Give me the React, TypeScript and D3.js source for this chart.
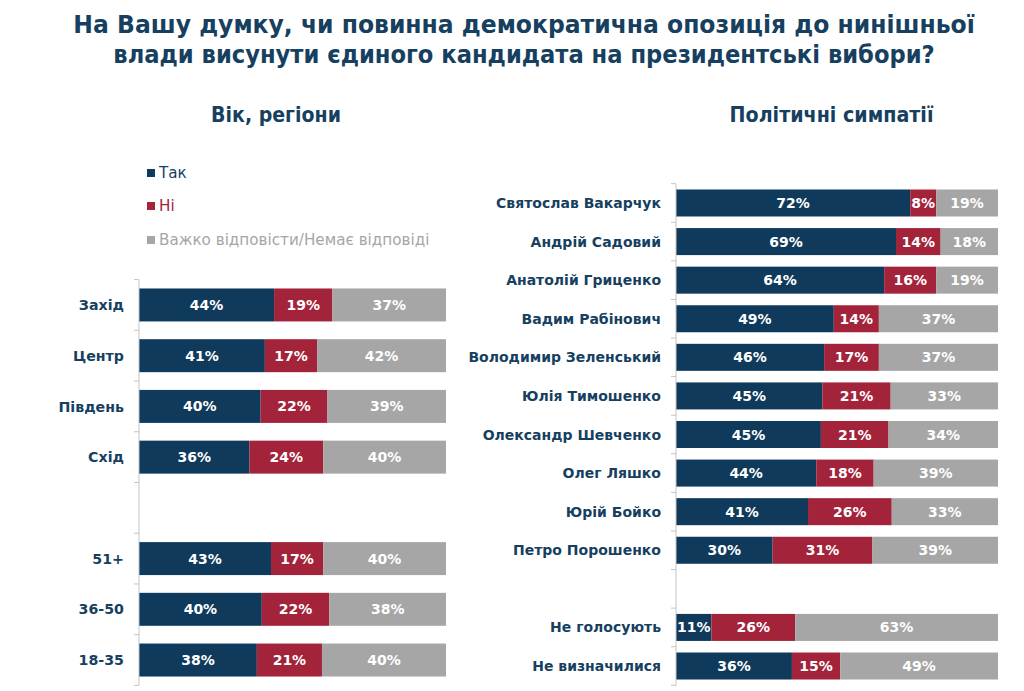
import React, { useLayoutEffect, useRef, useState } from "react";
import * as d3 from "d3";

const seriesKeys = ["yes", "no", "dk"];
const seriesLabels = ["Так", "Ні", "Важко відповісти/Немає відповіді"];
const seriesColors = ["#0f3a5c", "#a3233a", "#a6a6a6"];

const titleLines = [
  "На Вашу думку, чи повинна демократична опозиція до нинішньої",
  "влади висунути єдиного кандидата на президентські вибори?",
];
const leftSubtitle = "Вік, регіони";
const rightSubtitle = "Політичні симпатії";

const regionAgeCategories = ["Захід", "Центр", "Південь", "Схід", "51+", "36-50", "18-35"];
const regionAgeYes = [44, 41, 40, 36, 43, 40, 38];
const regionAgeNo = [19, 17, 22, 24, 17, 22, 21];
const regionAgeDk = [37, 42, 39, 40, 40, 38, 40];
const regionAgeGapAfter = "Схід";

const partyCategories = [
  "Святослав Вакарчук",
  "Андрій Садовий",
  "Анатолій Гриценко",
  "Вадим Рабінович",
  "Володимир Зеленський",
  "Юлія Тимошенко",
  "Олександр Шевченко",
  "Олег Ляшко",
  "Юрій Бойко",
  "Петро Порошенко",
  "Не голосують",
  "Не визначилися",
];
const partyYes = [72, 69, 64, 49, 46, 45, 45, 44, 41, 30, 11, 36];
const partyNo = [8, 14, 16, 14, 17, 21, 21, 18, 26, 31, 26, 15];
const partyDk = [19, 18, 19, 37, 37, 33, 34, 39, 33, 39, 63, 49];
const partyGapAfter = "Петро Порошенко";

const NAVY_TEXT = "#173f5f";
const AXIS = "#c4c4c4";
const LABEL_FONT = "'DejaVu Sans', Verdana, sans-serif";
const TITLE_FONT = "'Liberation Sans Narrow', 'DejaVu Sans Condensed', 'Open Sans', sans-serif";

function FitText(props: { x: number; y: number; width: number; size: number; text: string }) {
  const ref = useRef<SVGTextElement>(null);
  const [sx, setSx] = useState(1);
  useLayoutEffect(() => {
    if (ref.current) {
      const len = ref.current.getComputedTextLength();
      if (len > 0) setSx(props.width / len);
    }
  }, [props.text, props.width, props.size]);
  return (
    <g transform={`translate(${props.x},${props.y}) scale(${sx},1)`}>
      <text
        ref={ref}
        x={0}
        y={0}
        textAnchor="middle"
        fill={NAVY_TEXT}
        fontFamily={TITLE_FONT}
        fontWeight="bold"
        fontSize={props.size}
      >
        {props.text}
      </text>
    </g>
  );
}

type PanelProps = {
  categories: string[];
  yes: number[];
  no: number[];
  dk: number[];
  gapAfter: string;
  x0: number;
  x1: number;
  y0: number;
  y1: number;
  padding: number;
  catFont: number;
  valFont: number;
};

function Panel(p: PanelProps) {
  const rows = p.categories.map((c, i) => ({ cat: c, yes: p.yes[i], no: p.no[i], dk: p.dk[i] }));
  const domain: string[] = [];
  p.categories.forEach((c) => {
    domain.push(c);
    if (c === p.gapAfter) domain.push("__gap__");
  });
  const y = d3
    .scaleBand<string>()
    .domain(domain)
    .range([p.y0, p.y1])
    .paddingInner(p.padding)
    .paddingOuter(p.padding / 2);
  const x = d3.scaleLinear().domain([0, 1]).range([p.x0, p.x1]);
  const stack = d3.stack<any>().keys(seriesKeys).offset(d3.stackOffsetExpand);
  const layers = stack(rows);
  const step = y.step();
  const ticks = d3.range(domain.length + 1).map((i) => p.y0 + i * step);
  return (
    <g>
      {layers.map((layer, li) => (
        <g key={layer.key}>
          {layer.map((seg, ri) => {
            const d = rows[ri];
            const yy = y(d.cat) as number;
            const xa = x(seg[0]);
            const xb = x(seg[1]);
            return (
              <g key={d.cat}>
                <rect x={xa} y={yy} width={xb - xa} height={y.bandwidth()} fill={seriesColors[li]} />
                <text
                  x={(xa + xb) / 2}
                  y={yy + y.bandwidth() / 2}
                  dy="0.36em"
                  textAnchor="middle"
                  fill="#ffffff"
                  fontFamily={LABEL_FONT}
                  fontWeight="bold"
                  fontSize={p.valFont}
                >
                  {(d as any)[layer.key] + "%"}
                </text>
              </g>
            );
          })}
        </g>
      ))}
      <line x1={p.x0} x2={p.x0} y1={p.y0} y2={p.y1} stroke={AXIS} strokeWidth={1} />
      {ticks.map((t, i) => (
        <line key={i} x1={p.x0 - 5} x2={p.x0} y1={t} y2={t} stroke={AXIS} strokeWidth={1} />
      ))}
      {rows.map((d) => (
        <text
          key={d.cat}
          x={p.x0 - 15}
          y={(y(d.cat) as number) + y.bandwidth() / 2}
          dy="0.36em"
          textAnchor="end"
          fill={NAVY_TEXT}
          fontFamily={LABEL_FONT}
          fontWeight="bold"
          fontSize={p.catFont}
        >
          {d.cat}
        </text>
      ))}
    </g>
  );
}

export default function App() {
  const W = 1024;
  const H = 691;
  const legendY = [173, 206, 240];
  const legendColors = [seriesColors[0], seriesColors[1], "#a6a6a6"];
  const legendText = [NAVY_TEXT, seriesColors[1], "#a6a6a6"];
  return (
    <svg
      width={W}
      height={H}
      viewBox={`0 0 ${W} ${H}`}
      style={{ position: "absolute", left: 0, top: 0, background: "#ffffff" }}
    >
      <rect x={0} y={0} width={W} height={H} fill="#ffffff" />
      <FitText x={524} y={33} width={902} size={25} text={titleLines[0]} />
      <FitText x={524} y={63} width={822} size={25} text={titleLines[1]} />
      <FitText x={276} y={121.5} width={130} size={21.5} text={leftSubtitle} />
      <FitText x={831.5} y={121.5} width={204} size={21.5} text={rightSubtitle} />
      {seriesLabels.map((l, i) => (
        <g key={l}>
          <rect x={147} y={legendY[i] - 4} width={8} height={8} fill={legendColors[i]} />
          <text
            x={159}
            y={legendY[i]}
            dy="0.36em"
            fill={legendText[i]}
            fontFamily={LABEL_FONT}
            fontSize={15.2}
          >
            {l}
          </text>
        </g>
      ))}
      <Panel
        categories={regionAgeCategories}
        yes={regionAgeYes}
        no={regionAgeNo}
        dk={regionAgeDk}
        gapAfter={regionAgeGapAfter}
        x0={139}
        x1={446}
        y0={279.6}
        y1={685.4}
        padding={0.35}
        catFont={14.2}
        valFont={14}
      />
      <Panel
        categories={partyCategories}
        yes={partyYes}
        no={partyNo}
        dk={partyDk}
        gapAfter={partyGapAfter}
        x0={676}
        x1={998}
        y0={183.7}
        y1={685.3}
        padding={0.3}
        catFont={14}
        valFont={14}
      />
    </svg>
  );
}
